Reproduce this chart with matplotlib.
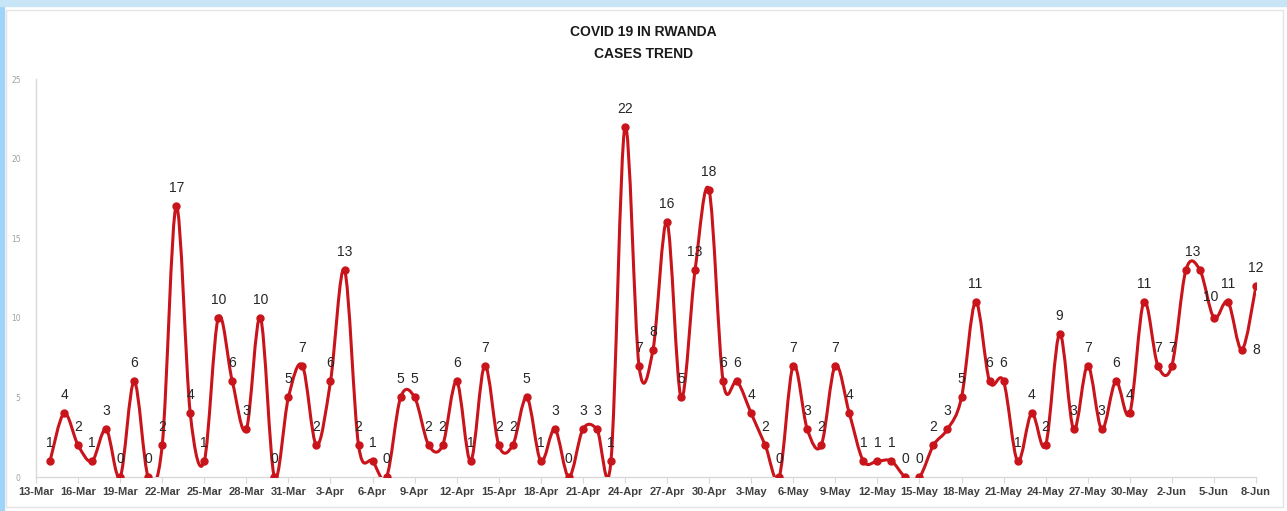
import datetime as dt
import numpy as np
import matplotlib.pyplot as plt
import matplotlib.dates as mdates
from matplotlib.path import Path
from matplotlib.patches import PathPatch, Rectangle


# daily new cases, first case on 14-Mar
cases = [1, 4, 2, 1, 3, 0, 6, 0, 2, 17, 4, 1, 10, 6, 3, 10, 0, 5,
         7, 2, 6, 13, 2, 1, 0, 5, 5, 2, 2, 6, 1, 7, 2, 2, 5, 1, 3, 0, 3, 3, 1,
         22, 7, 8, 16, 5, 13, 18,
         6, 6, 4, 2, 0, 7, 3, 2, 7, 4, 1, 1, 1, 0, 0, 2, 3, 5, 11, 6, 6, 1, 4,
         2, 9, 3, 7, 3, 6, 4, 11,
         7, 7, 13, 13, 10, 11, 8, 12]
start = dt.date(2020, 3, 14)
days = [start + dt.timedelta(i) for i in range(len(cases))]
tick_days = [dt.date(2020, 3, 13) + dt.timedelta(3 * i) for i in range(30)]
tick_labels = [f'{d.day}-{d:%b}' for d in tick_days]
yticks = [0, 5, 10, 15, 20, 25]

red = '#c8141a'

fig = plt.figure(figsize=(12.87, 5.11), dpi=100)
# screenshot frame
fig.patches.append(Rectangle((0, 0), 4 / 1287, 1, transform=fig.transFigure,
                             color='#9fd4fa', zorder=0))
fig.patches.append(Rectangle((0, 1 - 6 / 511), 1, 6 / 511, transform=fig.transFigure,
                             color='#c8e5f8', zorder=0))
fig.patches.append(Rectangle((6 / 1287, 4 / 511), 1277 / 1287, 497 / 511,
                             transform=fig.transFigure, fill=False,
                             edgecolor='#e4e4e4', lw=1, zorder=0))

ax = fig.add_axes([36 / 1287, 34 / 511, 1220 / 1287, 398 / 511])
ax.patch.set_alpha(0)

x = mdates.date2num(days)
y = np.array(cases, dtype=float)

# smoothed line (bezier through the points, like excel's smooth line)
verts = [(x[0], y[0])]
codes = [Path.MOVETO]
n = len(x)
for i in range(n - 1):
    p0 = np.array([x[max(i - 1, 0)], y[max(i - 1, 0)]])
    p1 = np.array([x[i], y[i]])
    p2 = np.array([x[i + 1], y[i + 1]])
    p3 = np.array([x[min(i + 2, n - 1)], y[min(i + 2, n - 1)]])
    c1 = p1 + (p2 - p0) / 6
    c2 = p2 - (p3 - p1) / 6
    verts += [tuple(c1), tuple(c2), tuple(p2)]
    codes += [Path.CURVE4] * 3
ax.add_patch(PathPatch(Path(verts, codes), fill=False, edgecolor=red, lw=2.2,
                       capstyle='round', joinstyle='round', zorder=3))
ax.plot(x, y, 'o', ms=5, color=red, zorder=4)

# label offsets (points); excel hid the overlapping label on 4-Jun
offsets = {dt.date(2020, 6, 7): (10, 0),
           dt.date(2020, 6, 3): (5, 13),
           dt.date(2020, 6, 5): (-2, 15)}
for xi, v, d in zip(x, cases, days):
    if d == dt.date(2020, 6, 4):
        continue
    off = offsets.get(d, (0, 13))
    ax.annotate(str(v), (xi, v), xytext=off, textcoords='offset points',
                ha='center', va='center', fontsize=10, color='#262626',
                family='Liberation Sans', zorder=5)

ax.set_xlim(mdates.date2num(tick_days[0]), mdates.date2num(tick_days[-1]))
ax.set_ylim(0, 25)
ax.set_xticks(mdates.date2num(tick_days))
ax.set_xticklabels(tick_labels, fontsize=8, fontweight='bold', color='#404040',
                   family='Liberation Sans')
ax.set_yticks(yticks)
ax.set_yticklabels([str(t) for t in yticks], fontsize=5.5, color='#a0a0a0')

for s in ['top', 'right']:
    ax.spines[s].set_visible(False)
for s in ['left', 'bottom']:
    ax.spines[s].set_color('#d9d9d9')
    ax.spines[s].set_linewidth(1)
ax.tick_params(axis='x', length=4, color='#d9d9d9', pad=3)
ax.tick_params(axis='y', length=0, pad=11)

fig.text(0.5, 1 - 32 / 511, 'COVID 19 IN RWANDA', ha='center', va='center',
         fontsize=10, fontweight='bold', color='#1a1a1a', family='Liberation Sans')
fig.text(0.5, 1 - 54 / 511, 'CASES TREND', ha='center', va='center',
         fontsize=10, fontweight='bold', color='#1a1a1a', family='Liberation Sans')

fig.savefig('out.png', dpi=100)
